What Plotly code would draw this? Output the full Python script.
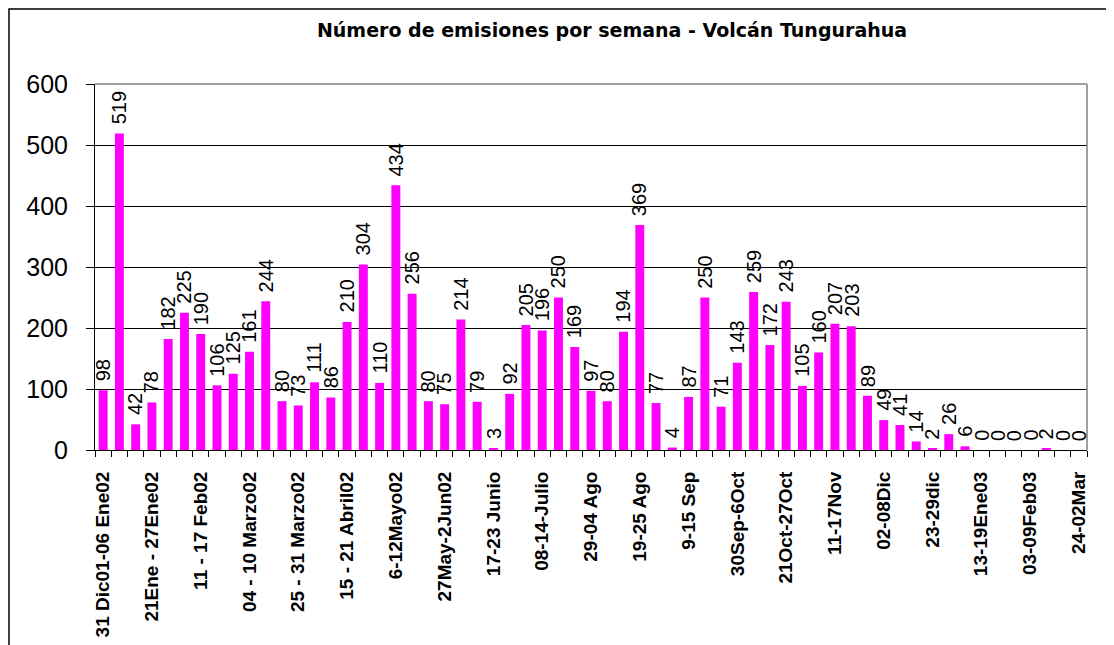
'''
    Bar chart: weekly emission count at Tungurahua volcano (2002 - 2003).
'''

import plotly.graph_objects as go

# Weekly counts, one per week, in chart order
emisiones = [98, 519, 42, 78, 182, 225, 190, 106, 125, 161, 244, 80, 73, 111,
             86, 210, 304, 110, 434, 256, 80, 75, 214, 79, 3, 92, 205, 196,
             250, 169, 97, 80, 194, 369, 77, 4, 87, 250, 71, 143, 259, 172,
             243, 105, 160, 207, 203, 89, 49, 41, 14, 2, 26, 6, 0, 0, 0, 0,
             2, 0, 0]
semanas = list(range(1, len(emisiones) + 1))

# Only every third week carries a label on the axis
etiquetas_semanas = [1, 4, 7, 10, 13, 16, 19, 22, 25, 28, 31, 34, 37, 40,
                     43, 46, 49, 52, 55, 58, 61]
etiquetas = ['31 Dic01-06 Ene02', '21Ene - 27Ene02', '11 - 17 Feb02',
             '04 - 10 Marzo02', '25 - 31 Marzo02', '15 - 21 Abril02',
             '6-12Mayo02', '27May-2Jun02', '17-23 Junio', '08-14-Julio',
             '29-04 Ago', '19-25 Ago', '9-15 Sep', '30Sep-6Oct',
             '21Oct-27Oct', '11-17Nov', '02-08Dic', '23-29dic',
             '13-19Ene03', '03-09Feb03', '24-02Mar']

# the page body adds an 8px margin, so the figure is sized to fit inside it
OFF = 8
W, H = 1114 - OFF, 645 - OFF
L, T = 95 - OFF, 84 - OFF
R = W - (1087 - OFF)
B = H - (450 - OFF)
FONT = 'Liberation Sans, Arial, sans-serif'

fig = go.Figure(go.Bar(
    x=semanas,
    y=emisiones,
    marker=dict(color='#FF00FF', line=dict(width=0)),
    hovertemplate='%{y}<extra></extra>',
))

# value labels above each bar, rotated
for s, v in zip(semanas, emisiones):
    fig.add_annotation(
        x=s, y=v, text=str(v), showarrow=False,
        textangle=-90, xanchor='center', yanchor='bottom', yshift=7,
        font=dict(family=FONT, size=20, color='black'),
    )

pw, ph = W - L - R, H - T - B
fig.update_layout(
    width=W, height=H,
    margin=dict(l=L, r=R, t=T, b=B, pad=0, autoexpand=False),
    paper_bgcolor='white',
    plot_bgcolor='white',
    bargap=0.45,
    showlegend=False,
    font=dict(family=FONT, color='black'),
    title=dict(
        text='<b>Número de emisiones por semana - Volcán Tungurahua</b>',
        font=dict(family='DejaVu Sans, ' + FONT, size=19, color='black'),
        xref='paper', x=(612 - OFF - L) / pw, xanchor='center',
        yref='container', y=1 - (30 - OFF) / H, yanchor='middle',
    ),
)

bordes = [s - 0.5 for s in semanas] + [semanas[-1] + 0.5]
fig.update_xaxes(
    range=[0.5, len(emisiones) + 0.5],
    tickmode='array',
    tickvals=etiquetas_semanas,
    ticktext=etiquetas,
    tickangle=-90,
    ticks='',
    ticklabelstandoff=13,
    tickfont=dict(family=FONT, size=19, color='black', weight='bold'),
    showgrid=False,
    showline=True, linecolor='black', linewidth=1,
    zeroline=False,
    minor=dict(tickmode='array', tickvals=bordes, ticks='outside',
               ticklen=6, tickcolor='black', showgrid=False),
)
fig.update_yaxes(
    range=[0, 600],
    dtick=100,
    ticks='outside', ticklen=8, tickcolor='black',
    ticklabelstandoff=13,
    tickfont=dict(family=FONT, size=25, color='black'),
    showgrid=True, gridcolor='black', gridwidth=1,
    showline=True, linecolor='black', linewidth=1,
    zeroline=False,
)

# gray top and right edges of the plot area
fig.add_shape(type='line', xref='paper', yref='paper', x0=0, x1=1, y0=1, y1=1,
              line=dict(color='#808080', width=1.5))
fig.add_shape(type='line', xref='paper', yref='paper', x0=1, x1=1, y0=0, y1=1,
              line=dict(color='#808080', width=1.5))

# outer frame around the whole chart (pixel positions inside the figure)
fig.add_shape(type='rect', xref='paper', yref='paper',
              x0=(1 - L) / pw, x1=(1109 - OFF - L) / pw,
              y0=(H - B - (670 - OFF)) / ph, y1=(H - B - 1) / ph,
              line=dict(color='black', width=1.5), layer='below')

fig.write_html('out.html')
